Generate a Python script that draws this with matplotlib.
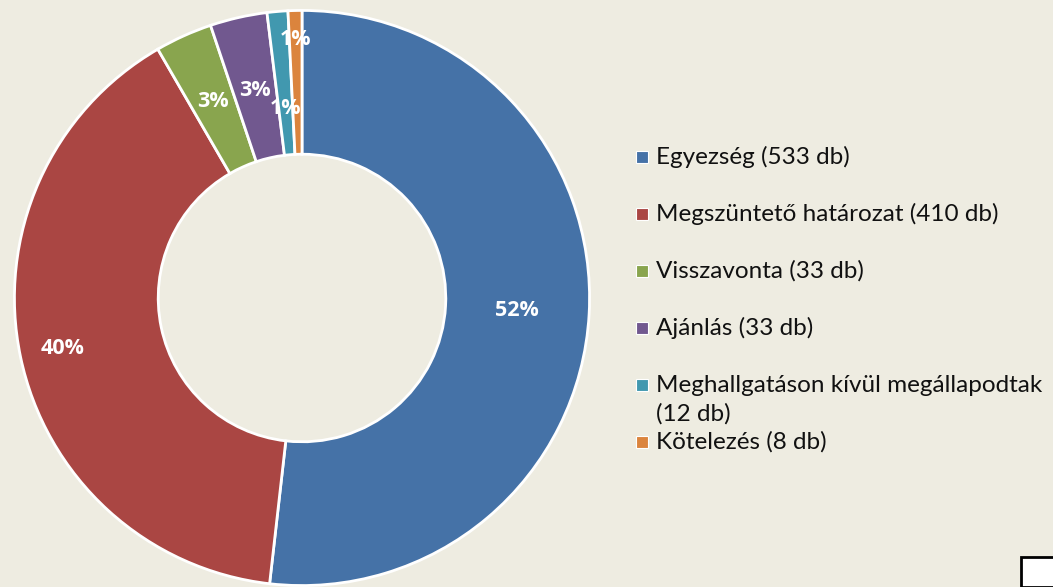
import matplotlib.pyplot as plt
from matplotlib.patches import Rectangle
import numpy as np

plt.rcParams['font.family'] = ['Lato', 'DejaVu Sans']

categories = ['Egyezség (533 db)', 'Megszüntető határozat (410 db)', 'Visszavonta (33 db)',
              'Ajánlás (33 db)', 'Meghallgatáson kívül megállapodtak\n(12 db)', 'Kötelezés (8 db)']
values = [533, 410, 33, 33, 12, 8]
pct_labels = ['52%', '40%', '3%', '3%', '1%', '1%']
colors = ['#4572A7', '#AA4643', '#89A54E', '#71588F', '#4198AF', '#DB843D']
label_radius = [0.75, 0.85, 0.75, 0.74, 0.66, 0.90]

bg = '#EEECE1'
W, H = 1053, 587
fig = plt.figure(figsize=(W / 100, H / 100), dpi=100, facecolor=bg)

# donut: center (302, 298) px, outer radius 289 px
cx, cy, R = 302, 298, 289
ax = fig.add_axes([(cx - R) / W, (H - cy - R) / H, 2 * R / W, 2 * R / H])
ax.set_facecolor(bg)
wedges, _ = ax.pie(values, colors=colors, startangle=90, counterclock=False, radius=1,
                   wedgeprops=dict(width=0.5, edgecolor='white', linewidth=2))
ax.set_xlim(-1.005, 1.005)
ax.set_ylim(-1.005, 1.005)
ax.axis('off')

total = sum(values)
cum = 0
for v, lab, r in zip(values, pct_labels, label_radius):
    mid = (cum + v / 2) / total
    ang = np.deg2rad(90 - 360 * mid)
    ax.text(r * np.cos(ang), r * np.sin(ang), lab, ha='center', va='center',
            color='white', fontsize=15.5, fontweight='bold', family=['Open Sans', 'DejaVu Sans'])
    cum += v

# legend drawn by hand
row_y = [157, 214, 271, 328, 385, 442]
for y, lab, c in zip(row_y, categories, colors):
    fig.patches.append(Rectangle((636 / W, (H - y - 6) / H), 12 / W, 12 / H,
                                 transform=fig.transFigure, facecolor=c,
                                 edgecolor='white', linewidth=0.8))
    for i, line in enumerate(lab.split('\n')):
        fig.text(656 / W, (H - y - 29 * i) / H, line, ha='left', va='center',
                 fontsize=17.5, color='#111111')

# small box at the bottom right corner
fig.patches.append(Rectangle((1021 / W, 0), 40 / W, 30 / H, transform=fig.transFigure,
                             facecolor='white', edgecolor='black', linewidth=2))

fig.savefig('out.png', dpi=100, facecolor=bg)
